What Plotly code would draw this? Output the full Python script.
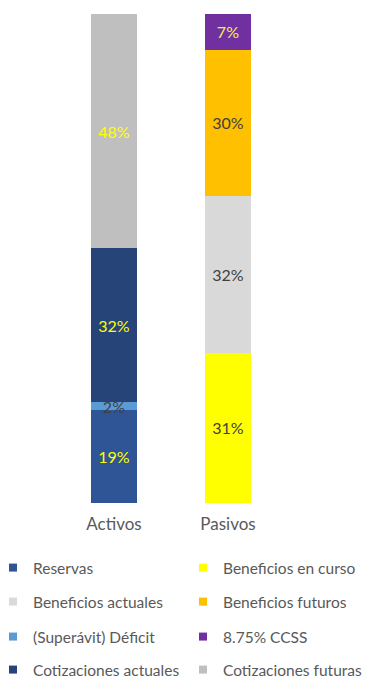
import plotly.graph_objects as go

# Composition of assets and liabilities (share of total, %)
categories = ["Activos", "Pasivos"]

series_names = [
    "Reservas",
    "Beneficios en curso",
    "Beneficios actuales",
    "Beneficios futuros",
    "(Superávit) Déficit",
    "8.75% CCSS",
    "Cotizaciones actuales",
    "Cotizaciones futuras",
]
series_category = [
    "Activos", "Pasivos", "Pasivos", "Pasivos",
    "Activos", "Pasivos", "Activos", "Activos",
]
series_values = [19.0, 30.7, 32.1, 29.9, 1.6, 7.3, 31.5, 47.9]

colors = [
    "#2F5597", "#FFFF00", "#D9D9D9", "#FFC000",
    "#5B9BD5", "#7030A0", "#264478", "#BFBFBF",
]
label_colors = [
    "#FFFF00", "#404040", "#404040", "#404040",
    "#404040", "#F2F24A", "#FFFF00", "#FFFF00",
]

FONT = "Lato, 'Open Sans', sans-serif"
GRAY = "#595959"

W, H = 381, 678
left, right = 57, 285
plot_top, plot_bottom = 14, 503


def ypaper(py):
    return (plot_bottom - py) / (plot_bottom - plot_top)


def xpaper(px):
    return (px - left) / (right - left)


# legend grid: two columns, four rows, one legend box per entry
row_y = [568, 602, 637, 670]
col_x = [-7, 183]

fig = go.Figure()
legend_layout = {}

for i, (name, cat, val, col, tcol) in enumerate(zip(
        series_names, series_category, series_values, colors, label_colors)):
    key = "legend" if i == 0 else f"legend{i + 1}"
    fig.add_trace(go.Bar(
        x=[cat], y=[val], name=name,
        marker=dict(color=col, line=dict(width=0)),
        texttemplate="%{y:.0f}%",
        textposition="inside", insidetextanchor="middle",
        textfont=dict(family=FONT, size=16, color=tcol),
        showlegend=False,
        hovertemplate=name + ": %{y:.1f}%<extra></extra>",
    ))
    # small square swatch for the legend entry
    fig.add_trace(go.Scatter(
        x=[None], y=[None], mode="markers", name=name,
        marker=dict(symbol="square", size=8, color=col),
        legend=key, hoverinfo="skip",
    ))
    legend_layout[key] = dict(
        orientation="h",
        x=xpaper(col_x[i % 2]), xanchor="left",
        y=ypaper(row_y[i // 2]), yanchor="middle",
        font=dict(family=FONT, size=15.5, color=GRAY),
        bgcolor="rgba(0,0,0,0)",
        borderwidth=0,
        itemclick=False, itemdoubleclick=False,
    )

fig.update_layout(
    width=W, height=H,
    margin=dict(l=left, r=W - right, t=plot_top, b=H - plot_bottom,
                autoexpand=False),
    barmode="stack",
    bargap=0.6,
    paper_bgcolor="white",
    plot_bgcolor="white",
    uniformtext=dict(minsize=16, mode="show"),
    showlegend=True,
    xaxis=dict(
        categoryorder="array", categoryarray=categories,
        showgrid=False, zeroline=False, showline=False,
        ticks="", ticklabelstandoff=9,
        tickfont=dict(family=FONT, size=17, color=GRAY),
    ),
    yaxis=dict(range=[0, 100], visible=False, showgrid=False),
    **legend_layout,
)

fig.write_html("out.html")
